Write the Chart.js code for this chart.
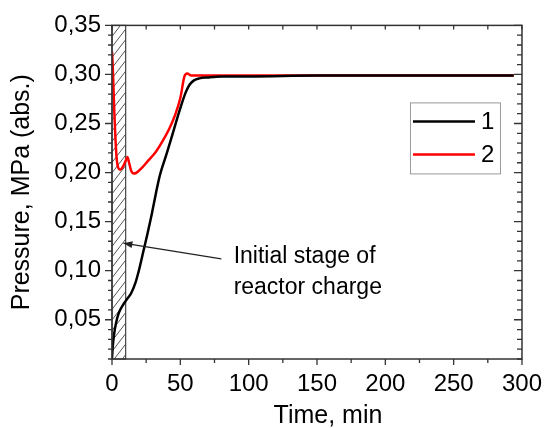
<!DOCTYPE html>
<html>
<head>
<meta charset="utf-8">
<script src="https://cdn.jsdelivr.net/npm/chart.js@4.4.1/dist/chart.umd.min.js"></script>
<style>
  html, body { margin: 0; padding: 0; background: #fff; }
</style>
</head>
<body>
<canvas id="pressureChart" width="553" height="428"></canvas>
<script>
// curve 1 (black)
const timeOne = [0, 0.5, 1.5, 3, 5, 8, 11, 14, 17, 20, 23, 26, 29, 32, 35, 39, 43, 47, 51, 54, 57, 60, 64, 70, 80, 100, 150, 200, 250, 294];
const pressureOne = [0.010, 0.022, 0.035, 0.047, 0.057, 0.065, 0.071, 0.077, 0.087, 0.102, 0.120, 0.138, 0.157, 0.178, 0.197, 0.215, 0.233, 0.252, 0.270, 0.282, 0.290, 0.294, 0.296, 0.297, 0.298, 0.298, 0.299, 0.299, 0.299, 0.299];

// curve 2 (red)
const timeTwo = [0, 0.5, 1, 1.7, 2.5, 3.5, 4.5, 6, 8, 10, 11.3, 12.5, 14, 16, 18, 22, 27, 32, 37, 42, 46, 50, 53, 55, 58, 65, 80, 100, 150, 200, 250, 294];
const pressureTwo = [0.323, 0.310, 0.290, 0.262, 0.235, 0.213, 0.205, 0.203, 0.206, 0.212, 0.216, 0.210, 0.202, 0.199, 0.200, 0.205, 0.213, 0.221, 0.232, 0.245, 0.258, 0.276, 0.298, 0.301, 0.299, 0.299, 0.299, 0.299, 0.299, 0.299, 0.299, 0.299];

const seriesLabels = ['1', '2'];
const seriesColors = ['#000000', '#ff0000'];

const xTickValues = [0, 50, 100, 150, 200, 250, 300];
const yTickValues = [0.05, 0.10, 0.15, 0.20, 0.25, 0.30, 0.35];

// hatched interval, min
const chargeStage = [0, 10];
const noteLines = ['Initial stage of', 'reactor charge'];
const xTitle = 'Time, min';

const FONT = 'Arial, "Liberation Sans", sans-serif';

function toPoints(xs, ys) {
    return xs.map((t, i) => ({ x: t, y: ys[i] }));
}

const decorPlugin = {
    id: 'decor',
    beforeDatasetsDraw(chart) {
        const { ctx, chartArea: a, scales: { x } } = chart;
        const x0 = x.getPixelForValue(chargeStage[0]);
        const x1 = x.getPixelForValue(chargeStage[1]);
        // hatch
        ctx.save();
        ctx.beginPath();
        ctx.rect(x0, a.top, x1 - x0, a.bottom - a.top);
        ctx.clip();
        ctx.strokeStyle = '#555';
        ctx.lineWidth = 1;
        ctx.beginPath();
        for (let yy = a.top - 10; yy < a.bottom + 40; yy += 10.5) {
            ctx.moveTo(x0, yy);
            ctx.lineTo(x1, yy - (x1 - x0) * 1.3);
        }
        ctx.stroke();
        ctx.restore();
        ctx.save();
        ctx.strokeStyle = '#444';
        ctx.lineWidth = 1.2;
        ctx.strokeRect(x0, a.top, x1 - x0, a.bottom - a.top);
        ctx.restore();
    },
    afterDatasetsDraw(chart) {
        const { ctx, chartArea: a, scales: { x, y } } = chart;
        ctx.save();

        // frame
        ctx.strokeStyle = '#333';
        ctx.lineWidth = 1.5;
        ctx.strokeRect(a.left, a.top, a.right - a.left, a.bottom - a.top);

        // ticks
        ctx.lineWidth = 1.3;
        ctx.beginPath();
        for (let v = 0; v <= 300; v += 25) {
            const px = x.getPixelForValue(v);
            const major = v % 50 === 0;
            ctx.moveTo(px, a.bottom);
            ctx.lineTo(px, a.bottom + (major ? 6 : 4));
            ctx.moveTo(px, a.top);
            ctx.lineTo(px, a.top + 4);
        }
        for (let i = 1; i <= 35; i++) {
            const py = y.getPixelForValue(i / 100);
            const major = i % 5 === 0;
            ctx.moveTo(a.left - (major ? 7 : 4), py);
            ctx.lineTo(a.left, py);
            ctx.moveTo(a.right - (major ? 8 : 5), py);
            ctx.lineTo(a.right, py);
        }
        ctx.stroke();

        // legend
        const bx = a.right - 112, by = a.top + 77, bw = 90, bh = 71;
        ctx.fillStyle = '#fff';
        ctx.fillRect(bx, by, bw, bh);
        ctx.strokeStyle = '#999';
        ctx.lineWidth = 1;
        ctx.strokeRect(bx + 0.5, by + 0.5, bw, bh);
        ctx.font = '24px ' + FONT;
        ctx.textBaseline = 'middle';
        ctx.textAlign = 'left';
        seriesLabels.forEach((lbl, i) => {
            const ly = by + 19 + i * 33;
            ctx.strokeStyle = seriesColors[i];
            ctx.lineWidth = 2.5;
            ctx.beginPath();
            ctx.moveTo(bx + 3, ly);
            ctx.lineTo(bx + 65, ly);
            ctx.stroke();
            ctx.fillStyle = '#000';
            ctx.fillText(lbl, bx + 71, ly + 1);
        });

        // annotation
        const tail = { x: x.getPixelForValue(80), y: y.getPixelForValue(0.112) };
        const head = { x: x.getPixelForValue(8.3), y: y.getPixelForValue(0.128) };
        ctx.strokeStyle = '#222';
        ctx.fillStyle = '#222';
        ctx.lineWidth = 1.3;
        ctx.beginPath();
        ctx.moveTo(tail.x, tail.y);
        ctx.lineTo(head.x, head.y);
        ctx.stroke();
        const ang = Math.atan2(head.y - tail.y, head.x - tail.x);
        ctx.beginPath();
        ctx.moveTo(head.x, head.y);
        ctx.lineTo(head.x - 9 * Math.cos(ang) + 3.5 * Math.sin(ang), head.y - 9 * Math.sin(ang) - 3.5 * Math.cos(ang));
        ctx.lineTo(head.x - 9 * Math.cos(ang) - 3.5 * Math.sin(ang), head.y - 9 * Math.sin(ang) + 3.5 * Math.cos(ang));
        ctx.closePath();
        ctx.fill();

        ctx.fillStyle = '#000';
        ctx.font = '23px ' + FONT;
        ctx.textBaseline = 'alphabetic';
        const tx = x.getPixelForValue(89);
        ctx.fillText(noteLines[0], tx, y.getPixelForValue(0.108));
        ctx.fillText(noteLines[1], tx, y.getPixelForValue(0.076));

        // x axis title
        ctx.font = '25px ' + FONT;
        ctx.textAlign = 'center';
        ctx.fillText(xTitle, (a.left + a.right) / 2 + 11, chart.height - 5);

        ctx.restore();
    }
};

const ctx = document.getElementById('pressureChart').getContext('2d');
const pressureChart = new Chart(ctx, {
    type: 'line',
    data: {
        datasets: [{
            label: seriesLabels[0],
            data: toPoints(timeOne, pressureOne),
            borderColor: seriesColors[0],
            borderWidth: 2.5,
            pointRadius: 0,
            cubicInterpolationMode: 'monotone'
        }, {
            label: seriesLabels[1],
            data: toPoints(timeTwo, pressureTwo),
            borderColor: seriesColors[1],
            borderWidth: 2.5,
            pointRadius: 0,
            cubicInterpolationMode: 'monotone'
        }]
    },
    options: {
        responsive: false,
        animation: false,
        layout: { padding: { top: 23, right: 24, left: 0, bottom: 0 } },
        plugins: {
            legend: { display: false },
            tooltip: { enabled: false }
        },
        scales: {
            x: {
                type: 'linear',
                min: 0,
                max: 300,
                afterBuildTicks: s => { s.ticks = xTickValues.map(v => ({ value: v })); },
                afterFit: s => { s.height = 69; },
                grid: { display: false, drawTicks: false },
                border: { display: false },
                ticks: {
                    font: { family: FONT, size: 24 },
                    color: '#000',
                    padding: 11,
                    maxRotation: 0,
                    autoSkip: false
                }
            },
            y: {
                type: 'linear',
                min: 0.01,
                max: 0.35,
                afterBuildTicks: s => { s.ticks = yTickValues.map(v => ({ value: v })); },
                afterFit: s => { s.width = 112; },
                grid: { display: false, drawTicks: false },
                border: { display: false },
                ticks: {
                    font: { family: FONT, size: 24 },
                    color: '#000',
                    padding: 11,
                    callback: v => v.toFixed(2).replace('.', ',')
                },
                title: {
                    display: true,
                    text: 'Pressure, MPa (abs.)',
                    font: { family: FONT, size: 25 },
                    color: '#000',
                    padding: { top: 7, bottom: 0 }
                }
            }
        }
    },
    plugins: [decorPlugin]
});
</script>
</body>
</html>
